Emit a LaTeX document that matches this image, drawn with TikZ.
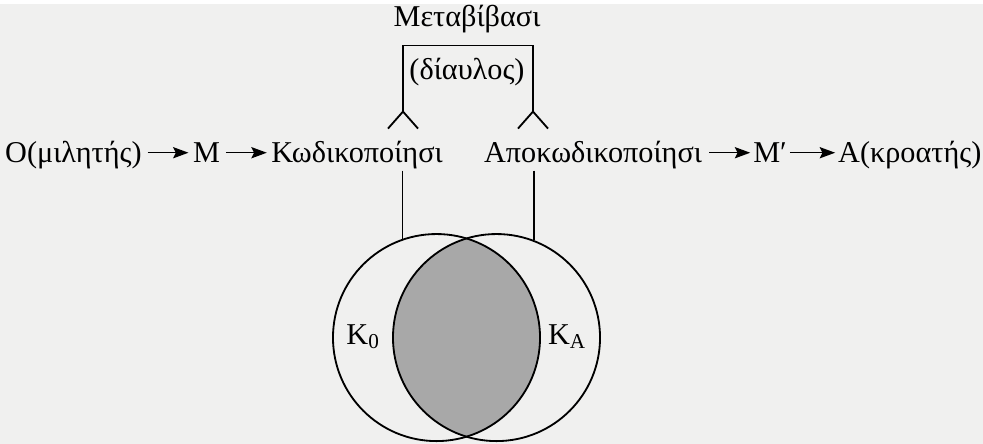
\documentclass[tikz,border=0pt]{standalone}
\usepackage{fontspec}
\setmainfont{Liberation Serif}
\usetikzlibrary{arrows.meta, positioning}
\definecolor{paper}{RGB}{240,240,239}
\definecolor{lens}{RGB}{168,168,168}

\begin{document}
\begin{tikzpicture}[x=0.025cm, y=0.025cm, font=\fontsize{21.5}{25}\selectfont, node distance=1.2cm,
    word/.style={inner sep=1pt, anchor=base},
    arrow/.style={-{Stealth[length=11pt, width=8pt, inset=2pt]}, line width=1.1pt},
    link/.style={line width=1.3pt},
    set/.style={draw, circle, line width=1.3pt, inner sep=0pt, minimum size=5.175cm}]
    \fill[paper] (0,0) rectangle (983,440);

    \node[word] (enc) at (357,281) {Κωδικοποίησι};
    \node[word, base left=of enc] (msg) {Μ};
    \node[word, base left=of msg] (spk) {Ο(μιλητής)};
    \node[word] (dec) at (593,281) {Αποκωδικοποίησι};
    \node[word, base right=of dec] (msgp) {Μ′};
    \node[word, base right=of msgp] (lst) {Α(κροατής)};

    \draw[arrow] ([xshift=3pt, yshift=7pt]spk.base east) -- ([xshift=-2pt, yshift=7pt]msg.base west);
    \draw[arrow] ([xshift=3pt, yshift=7pt]msg.base east) -- ([xshift=-2pt, yshift=7pt]enc.base west);
    \draw[arrow] ([xshift=4pt, yshift=7pt]dec.base east) -- ([xshift=-1pt, yshift=7pt]msgp.base west);
    \draw[arrow] ([xshift=1pt, yshift=7pt]msgp.base east) -- ([xshift=-1pt, yshift=7pt]lst.base west);

    \node (chan) at (467,425) {Μεταβίβασι};
    \node (via) at (467,372) {(δίαυλος)};
    \coordinate (chtop) at (467,398);
    \coordinate (chl) at (403,332);
    \coordinate (chr) at (533,332);
    \draw[link] (chl) |- (chtop) -| (chr);
    \draw[link] (chl) ++(-15,-17) -- (chl) -- ++(15,-17);
    \draw[link] (chr) ++(-15,-17) -- (chr) -- ++(15,-17);

    \coordinate (koc) at (436.5,106);
    \coordinate (kac) at (496.5,106);
    \begin{scope}
        \clip (koc) circle (103.5);
        \fill[lens] (kac) circle (103.5);
    \end{scope}
    \node[set] (ko) at (koc) {};
    \node[set] (ka) at (kac) {};
    \node (k0) at (363,107) {Κ\textsubscript{0}};
    \node (kA) at (567,107) {Κ\textsubscript{Α}};

    \draw[link] (enc.south -| ko.109) -- (ko.109);
    \draw[link] (dec.south -| ka.69.35) -- (ka.69.35);
\end{tikzpicture}
\end{document}
